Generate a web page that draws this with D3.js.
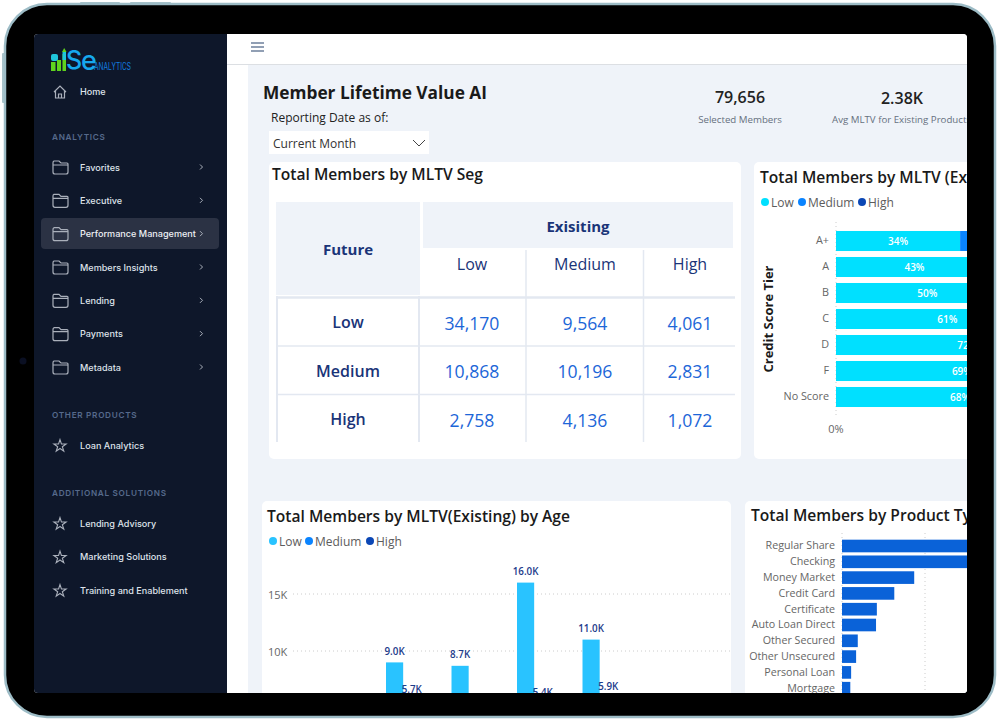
<!DOCTYPE html>
<html><head><meta charset="utf-8">
<script src="https://cdn.jsdelivr.net/npm/d3@7/dist/d3.min.js"></script>
<style>html,body{margin:0;padding:0;background:#fff;overflow:hidden}svg{display:block}
text{font-family:"Open Sans",sans-serif}.nav text{font-family:Inter,sans-serif}</style></head><body>
<svg id="c" width="1000" height="720"></svg>
<script>
// ---------- data ----------
const mainNav=["Favorites","Executive","Performance Management","Members Insights","Lending","Payments","Metadata"];
const solutionNav=["Lending Advisory","Marketing Solutions","Training and Enablement"];
const segLabels=["Low","Medium","High"];
const matrixLow=[34170,9564,4061];
const matrixMedium=[10868,10196,2831];
const matrixHigh=[2758,4136,1072];
const creditTiers=["A+","A","B","C","D","F","No Score"];
const creditLow=[34,43,50,61,72,69,68];
const creditMedium=[33,31,29,24,18,20,21];
const creditHigh=[33,26,21,15,10,11,11];
const ageGroups=["18-24","25-34","35-44","45-54","55-64","65+"];
const ageLow=[4.2,9.0,8.7,16.0,11.0,3.8];
const ageMedium=[2.1,5.7,4.5,5.4,5.9,1.9];
const ageHigh=[0.9,2.4,1.7,2.6,2.8,0.7];
const ageTicks=[10,15];
const products=["Regular Share","Checking","Money Market","Credit Card","Certificate","Auto Loan Direct","Other Secured","Other Unsecured","Personal Loan","Mortgage"];
const productMembers=[32,28,8.7,6.3,4.2,4.1,1.9,1.7,1.1,1.0];
const productTicks=[0,10];

// ---------- helpers ----------
const svg=d3.select("#c");
const T=(g,x,y,s,o={})=>g.append("text").attr("x",x).attr("y",y).attr("dominant-baseline","central")
  .attr("text-anchor",o.a||"start").attr("font-size",o.s||12).attr("font-weight",o.w||400)
  .attr("fill",o.c||"#222").text(s);
const R=(g,x,y,w,h,c,r=0)=>g.append("rect").attr("x",x).attr("y",y).attr("width",w).attr("height",h).attr("fill",c).attr("rx",r);
const L=(g,x1,y1,x2,y2,c,w=1,d=null)=>g.append("line").attr("x1",x1).attr("y1",y1).attr("x2",x2).attr("y2",y2).attr("stroke",c).attr("stroke-width",w).attr("stroke-dasharray",d);

// ---------- device frame ----------
R(svg,80,2,40,4,"#a9c3ca",1);R(svg,130,2,41,4,"#a9c3ca",1);R(svg,2,53,4,50,"#a9c3ca",1);
svg.append("rect").attr("x",5).attr("y",4).attr("width",990).attr("height",713).attr("rx",42).attr("fill","#000").attr("stroke","#9dbcc6").attr("stroke-width",2.5);
svg.append("circle").attr("cx",23).attr("cy",361).attr("r",3.5).attr("fill","#0a0f22");

const defs=svg.append("defs");
defs.append("clipPath").attr("id","screen").append("rect").attr("x",34).attr("y",34).attr("width",933).attr("height",659).attr("rx",4);
const scr=svg.append("g").attr("clip-path","url(#screen)");
R(scr,34,34,933,659,"#eff3f9");

// ---------- sidebar ----------
const nav=scr.append("g").attr("class","nav");
R(nav,34,34,193,659,"#0e172a");
R(nav,41,218,178,31,"#2b3244",4);
// logo
R(nav,51,62,4.5,9,"#5fd31e");R(nav,51,54,7,7,"#1fc6dc",2);R(nav,57,60,4,11,"#5fd31e");
R(nav,62.5,54,3.5,17,"#5fd31e");R(nav,62.5,52,3.5,8,"#1fc6dc");nav.append("path").attr("d","M62 52 L64.2 48 L66.5 52Z").attr("fill","#5fd31e");
T(nav,66,60,"S",{s:25,w:500,c:"#16a8ee"});
T(nav,81,60,"e",{s:27,w:500,c:"#16a8ee"});
T(nav,94,66,"ANALYTICS",{s:10,c:"#127fe0"}).attr("textLength",37).attr("lengthAdjust","spacingAndGlyphs");

const navText="#dfe3ea",iconC="#aab0bb";
function folder(g,y){g.append("path").attr("d",`M54 ${y-6} h5 l2 2 h6 a1 1 0 0 1 1 1 v8 a2 2 0 0 1 -2 2 h-11 a2 2 0 0 1 -2 -2 v-9 a2 2 0 0 1 1 -2 z M53 ${y-2} h15`).attr("fill","none").attr("stroke",iconC).attr("stroke-width",1.2);}
function star(g,y){g.append("path").attr("d",d3.symbol(d3.symbolStar,46)()).attr("transform",`translate(60,${y+1})`).attr("fill","none").attr("stroke",iconC).attr("stroke-width",1.1);}
function item(g,y,s,o={}){T(g,80,y,s,{s:o.s||9.1,w:500,c:o.c||navText});}
function head(g,y,s){T(g,52,y,s,{s:8.2,w:600,c:"#566a8c"}).style("letter-spacing",".7px");}
nav.append("path").attr("d","M54 92 L60 86 L66 92 M55.5 91 V98 H64.5 V91 M58.5 98 V94 H61.5 V98").attr("fill","none").attr("stroke",iconC).attr("stroke-width",1.2);
item(nav,91,"Home");
head(nav,137,"ANALYTICS");
const navY=d3.scalePoint().domain(mainNav).range([167,367]);
mainNav.forEach(n=>{const y=navY(n);folder(nav,y);item(nav,y,n,{c:n==="Performance Management"?"#eef0f4":navText});
 nav.append("path").attr("d",`M200 ${y-2.5} l2.5 2.5 l-2.5 2.5`).attr("fill","none").attr("stroke",iconC).attr("stroke-width",1);});
head(nav,415,"OTHER PRODUCTS");star(nav,445);item(nav,445,"Loan Analytics");
head(nav,493,"ADDITIONAL SOLUTIONS");
const solY=d3.scalePoint().domain(solutionNav).range([523,590]);
solutionNav.forEach(n=>{star(nav,solY(n));item(nav,solY(n),n);});

// ---------- top bar ----------
R(scr,227,34,740,659,"#fff");
R(scr,248,65,719,628,"#eff3f9");
L(scr,227,64.5,967,64.5,"#dcdfe3",1.2);
[43,47,51].forEach(y=>L(scr,251,y,264,y,"#6c7f9b",1.5));

// ---------- header ----------
T(scr,263,92,"Member Lifetime Value AI",{s:17.3,w:700,c:"#1a1a1a"});
T(scr,271,117,"Reporting Date as of:",{s:12,w:500,c:"#222"});
R(scr,269,131,160,23,"#fff");
T(scr,273,143,"Current Month",{s:12,c:"#333"});
scr.append("path").attr("d","M413 140 L419 146 L425 140").attr("fill","none").attr("stroke","#444").attr("stroke-width",1);
T(scr,740,97,"79,656",{s:16,w:600,a:"middle",c:"#222"});
T(scr,740,119,"Selected Members",{s:9.7,a:"middle",c:"#66707e"});
T(scr,902,98,"2.38K",{s:16,w:600,a:"middle",c:"#222"});
T(scr,832,119,"Avg MLTV for Existing Products",{s:9.7,c:"#66707e"});

// ---------- cards ----------
R(scr,269,162,472,297,"#fff",5);
R(scr,754,162,240,297,"#fff",5);
R(scr,262,501,469,220,"#fff",5);
R(scr,745,501,240,220,"#fff",5);

// ---------- matrix ----------
const m=scr.append("g");
T(m,272,174,"Total Members by MLTV Seg",{s:15.6,w:600,c:"#1a1a1a"});
const navy="#1a3478",valC="#1c66d8",gridC="#e3e8f1";
R(m,276,202,144,93,"#eff3f9");R(m,423,202,310,46,"#eff3f9");
T(m,348,249,"Future",{s:15,w:700,a:"middle",c:navy});
T(m,578,226,"Exisiting",{s:15,w:700,a:"middle",c:navy});
const colX=d3.scaleOrdinal().domain(segLabels).range([472,585,690]);
const rowY=d3.scalePoint().domain(segLabels).range([322,419]);
segLabels.forEach(s=>{T(m,colX(s),264,s,{s:16,w:500,a:"middle",c:navy});T(m,348,rowY(s),s,{s:16,w:600,a:"middle",c:navy});});
[matrixLow,matrixMedium,matrixHigh].forEach((row,i)=>row.forEach((v,j)=>
 T(m,colX(segLabels[j]),rowY(segLabels[i])+.5,d3.format(",")(v),{s:17.6,a:"middle",c:valC})));
L(m,277,297.5,735,297.5,gridC,2.5);L(m,277,346,735,346,gridC,1.5);L(m,277,394.5,735,394.5,gridC,1.5);
L(m,277,296,277,442,gridC,2);L(m,419,296,419,442,gridC,2);
L(m,526,250,526,442,gridC,1.5);L(m,643.5,250,643.5,442,gridC,1.5);

function legend(g,y,cols,dots){const n=["Low","Medium","High"];
 n.forEach((s,i)=>{g.append("circle").attr("cx",dots[i]).attr("cy",y).attr("r",4).attr("fill",cols[i]);
 T(g,dots[i]+6,y,s,{s:12,c:"#5c5c5c"});});}

// ---------- credit tier ----------
const cr=scr.append("g");
T(cr,760,177,"Total Members by MLTV (Existing) by Credit Score",{s:15.6,w:600,c:"#1a1a1a"});
const crCols=["#00e0ff","#0a84ff","#0b47b5"];
legend(cr,202,crCols,[765,802,862]);
const xC=d3.scaleLinear().domain([0,100]).range([836,1201]);
const yC=d3.scaleBand().domain(creditTiers).range([228,410]).paddingInner(.23).paddingOuter(.115);
L(cr,xC(0),222,xC(0),418,"#ccc",1,"1 3");
creditTiers.forEach((t,i)=>{let acc=0;[creditLow,creditMedium,creditHigh].forEach((arr,k)=>{
  cr.append("rect").attr("x",xC(acc)).attr("y",yC(t)).attr("width",xC(acc+arr[i])-xC(acc)).attr("height",yC.bandwidth()).attr("fill",crCols[k]);
  T(cr,(xC(acc)+xC(acc+arr[i]))/2,yC(t)+yC.bandwidth()/2,arr[i]+"%",{s:10,w:600,a:"middle",c:"#fff"});
  acc+=arr[i];});});
const axC=cr.append("g").attr("transform",`translate(${xC(0)-4},0)`).call(d3.axisLeft(yC).tickSize(0));
axC.select(".domain").remove();axC.selectAll("text").attr("font-size",10.8).attr("fill","#666").attr("font-family","Open Sans");
T(cr,836,428,"0%",{s:11,a:"middle",c:"#666"});
T(cr,0,0,"Credit Score Tier",{s:13,w:700,a:"middle",c:"#1a1a1a"}).attr("x",null).attr("y",null).attr("transform","translate(768,319) rotate(-90)");

// ---------- age ----------
const ag=scr.append("g");
T(ag,267,516,"Total Members by MLTV(Existing) by Age",{s:15.6,w:600,c:"#1a1a1a"});
const agCols=["#29c3ff","#0a84ff","#0b47b5"];
legend(ag,541,agCols,[273,309,370]);
const yA=d3.scaleLinear().domain([0,15]).range([765,594]);
const xA=d3.scaleBand().domain(ageGroups).range([313.5,706.5]).paddingInner(.214).paddingOuter(.107);
const xS=d3.scaleBand().domain([0,1,2]).range([0,xA.bandwidth()]);
ageTicks.forEach(t=>{L(ag,293,yA(t),731,yA(t),"#ccc",1,"1 3");T(ag,268,yA(t),t+"K",{s:11,c:"#666"});});
ageGroups.forEach((g,i)=>[ageLow,ageMedium,ageHigh].forEach((arr,k)=>{
  const x=xA(g)+xS(k);
  ag.append("rect").attr("x",x).attr("y",yA(arr[i])).attr("width",xS.bandwidth()).attr("height",yA(0)-yA(arr[i])).attr("fill",agCols[k]);
  T(ag,x+xS.bandwidth()/2,yA(arr[i])-11,arr[i].toFixed(1)+"K",{s:9.8,w:600,a:"middle",c:"#1d3b8b"});
}));

// ---------- product ----------
const pr=scr.append("g");
T(pr,751,515,"Total Members by Product Type",{s:15.6,w:600,c:"#1a1a1a"});
const xP=d3.scaleLinear().domain([0,10]).range([842,925]);
const yP=d3.scaleBand().domain(products).range([538.1,696.1]).paddingInner(.2).paddingOuter(.1);
productTicks.forEach(t=>L(pr,xP(t),533,xP(t),693,"#ccc",1,"1 3"));
products.forEach((p,i)=>pr.append("rect").attr("x",xP(0)).attr("y",yP(p)).attr("width",xP(productMembers[i])-xP(0)).attr("height",yP.bandwidth()).attr("fill","#0a62d8"));
const axP=pr.append("g").attr("transform",`translate(${xP(0)-4},0)`).call(d3.axisLeft(yP).tickSize(0));
axP.select(".domain").remove();axP.selectAll("text").attr("font-size",10.7).attr("fill","#666").attr("font-family","Open Sans");
</script></body></html>
